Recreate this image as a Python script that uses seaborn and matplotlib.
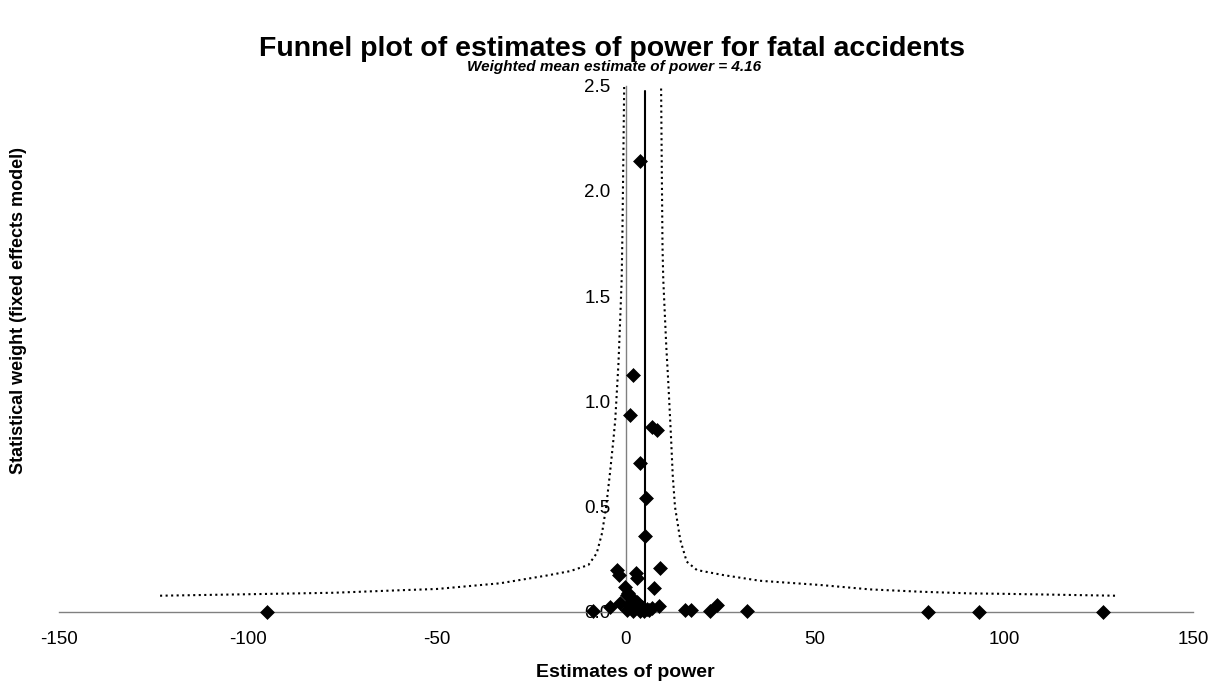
import numpy as np
import pandas as pd
import seaborn as sns
import matplotlib.pyplot as plt
from matplotlib.ticker import FormatStrFormatter

# estimates of power (x) and their statistical weight (y)
est_x = [3.8, 2.0, 1.1, 6.9, 8.2, 3.8, 5.4, 5.1,
         -2.4, -1.8, 2.7, 2.9, 9.1, -0.2, 7.5, 0.3, 1.6, 2.9,
         -4.2, -1.5, 1.1, 2.5, 4.2, 4.7, 6.0, 6.9, 8.7, 2.0, 3.8, 0.3,
         -8.6, -95.0, 15.7, 17.3, 22.3, 24.1, 32.0, 80.0, 93.3, 126.3,
         0.7, 1.5, 3.3, 5.5]
est_w = [2.14, 1.125, 0.935, 0.879, 0.864, 0.708, 0.539, 0.36,
         0.198, 0.174, 0.185, 0.159, 0.206, 0.119, 0.111, 0.079, 0.064, 0.048,
         0.024, 0.040, 0.032, 0.016, 0.024, 0.003, 0.008, 0.016, 0.027, 0.003, 0.002, 0.008,
         0.003, 0.0, 0.008, 0.006, 0.005, 0.030, 0.005, 0.0, 0.0, 0.0,
         0.087, 0.05, 0.035, 0.012]

# funnel limits
left_x = [-123.2, -100, -77.4, -59.7, -50, -33.3, -20.9, -14.7, -9.9, -7.7,
          -6.3, -5.2, -4.2, -3.3, -2.8, -1.95, -1.5, -1.1, -0.9, -0.7, -0.4]
left_y = [0.076, 0.083, 0.090, 0.102, 0.108, 0.135, 0.172, 0.193, 0.222, 0.278,
          0.373, 0.499, 0.658, 0.815, 0.911, 1.18, 1.386, 1.58, 1.8, 2.1, 2.55]
right_x = [129.4, 100, 91.1, 77.9, 64.6, 51.4, 35.5, 25.8, 18.8, 16.1,
           14.4, 13.0, 12.4, 11.9, 11.2, 10.7, 9.9, 9.7, 9.5, 9.3]
right_y = [0.076, 0.085, 0.087, 0.095, 0.106, 0.127, 0.147, 0.174, 0.198, 0.238,
           0.341, 0.499, 0.65, 0.85, 1.1, 1.26, 1.58, 1.735, 2.13, 2.55]

mean_x = 5.2
x_ticks = [-150, -100, -50, 0, 50, 100, 150]
y_ticks = [0.0, 0.5, 1.0, 1.5, 2.0, 2.5]

sns.set_style("white")
plt.rcParams['font.family'] = ['Liberation Sans', 'DejaVu Sans']
plt.rcParams['axes.unicode_minus'] = False
plt.rcParams['text.color'] = 'black'

fig = plt.figure(figsize=(12.24, 6.86), dpi=100)
ax = fig.add_axes([0.048, 0.1083, 0.9266, 0.7668])

sns.lineplot(x=left_x, y=left_y, sort=False, estimator=None, color='black',
             linestyle=':', linewidth=1.5, ax=ax)
sns.lineplot(x=right_x, y=right_y, sort=False, estimator=None, color='black',
             linestyle=':', linewidth=1.5, ax=ax)
ax.axvline(mean_x, ymin=0, ymax=0.99, color='black', linewidth=1.5)

pts = pd.DataFrame({'x': est_x, 'w': est_w})
sns.scatterplot(data=pts, x='x', y='w', marker='D', s=50, color='black',
                edgecolor='black', linewidth=0.5, ax=ax, clip_on=False, zorder=5)

ax.set_xlim(-150, 150)
ax.set_ylim(0, 2.5)
ax.set_xticks(x_ticks)
ax.set_yticks(y_ticks)
ax.yaxis.set_major_formatter(FormatStrFormatter('%.1f'))

for s in ['top', 'right']:
    ax.spines[s].set_visible(False)
ax.spines['left'].set_position(('data', 0))
ax.spines['bottom'].set_position(('data', 0))
for s in ['left', 'bottom']:
    ax.spines[s].set_color('#808080')
    ax.spines[s].set_linewidth(1.0)
ax.tick_params(axis='both', direction='out', length=5, width=1, color='#808080',
               labelsize=13.5, labelcolor='black')
ax.tick_params(axis='x', pad=9)
ax.tick_params(axis='y', pad=6)

ax.set_xlabel('')
ax.set_ylabel('')
fig.text(0.511, 0.019, 'Estimates of power', ha='center', va='center',
         fontsize=14, fontweight='bold')
fig.text(0.015, 0.548, 'Statistical weight (fixed effects model)', rotation=90,
         ha='center', va='center', fontsize=13, fontweight='bold')
fig.text(0.5, 0.929, 'Funnel plot of estimates of power for fatal accidents',
         ha='center', va='center', fontsize=20.5, fontweight='bold')
fig.text(0.502, 0.902, 'Weighted mean estimate of power = 4.16', ha='center',
         va='center', fontsize=11, fontweight='bold', style='italic')

fig.savefig('out.png', dpi=100)
